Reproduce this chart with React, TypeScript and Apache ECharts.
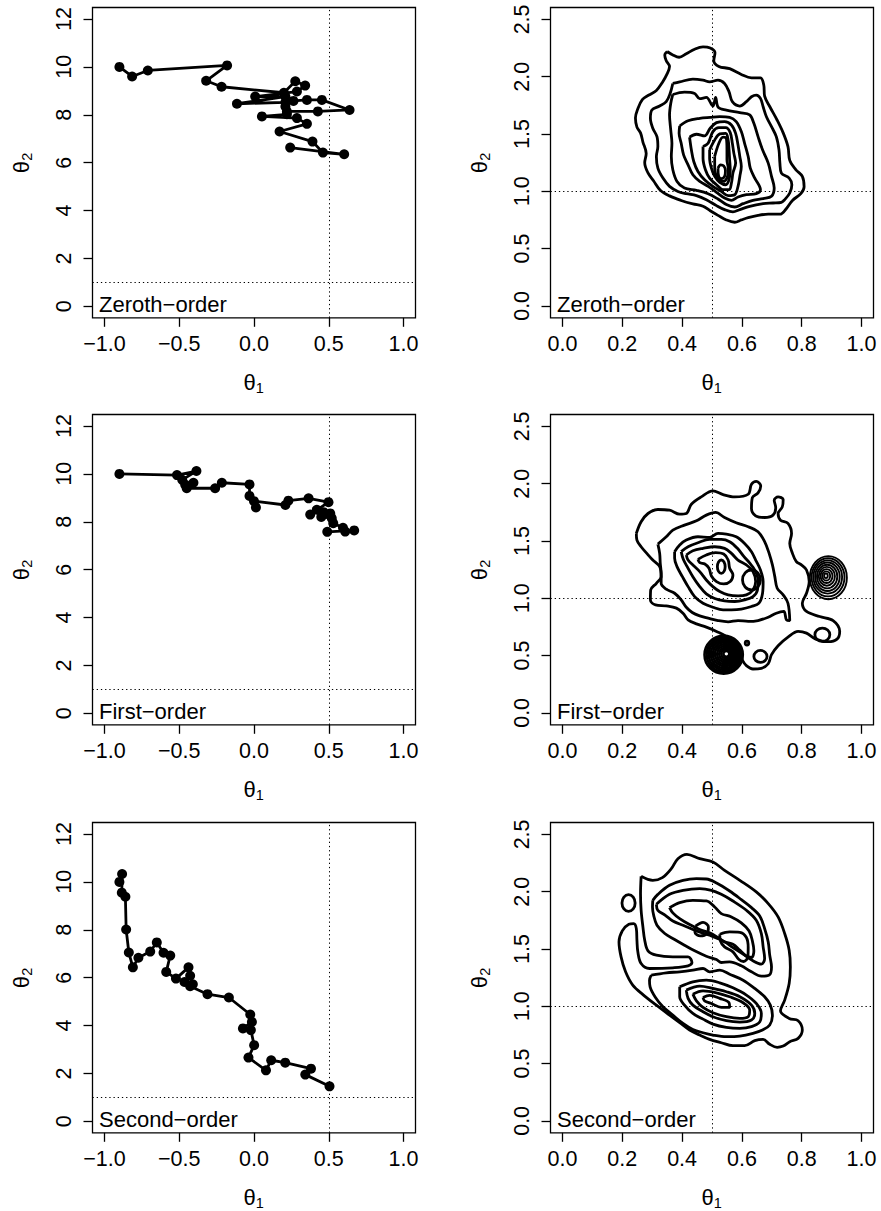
import React, { useEffect, useRef } from "react";
import * as echarts from "echarts";

const FONT = "'Liberation Sans', Arial, Helvetica, sans-serif";
const CHART_W = 881;
const CHART_H = 1211;
const COL_LEFT = [92.5, 550.5];
const ROW_TOP = [7.5, 414.5, 822.5];
const BOX_W = 323;
const BOX_H = 310.3;

const PANEL_LABELS = ["Zeroth\u2212order", "First\u2212order", "Second\u2212order"];
const TRUE_THETA1 = 0.5;
const TRUE_THETA2 = 1;

const TRACE_X_TICKS = [-1, -0.5, 0, 0.5, 1];
const TRACE_Y_TICKS = [0, 2, 4, 6, 8, 10, 12];
const DENS_X_TICKS = [0, 0.2, 0.4, 0.6, 0.8, 1];
const DENS_Y_TICKS = [0, 0.5, 1, 1.5, 2, 2.5];

// ---- trace paths (left column) ----
const ZEROTH_T1 = [-0.9, -0.815, -0.71, -0.18, -0.32, -0.217, 0.2, 0.276, 0.342, 0.287, 0.008, 0.21, -0.114, 0.21, 0.264, 0.354, 0.454, 0.639, 0.427, 0.22, 0.21, 0.22, 0.053, 0.287, 0.354, 0.171, 0.391, 0.461, 0.603, 0.242];
const ZEROTH_T2 = [10.0, 9.6, 9.85, 10.06, 9.42, 9.17, 8.92, 9.4, 9.22, 8.97, 8.76, 8.76, 8.46, 8.52, 8.58, 8.62, 8.62, 8.2, 8.14, 8.14, 8.35, 8.02, 7.93, 7.86, 7.62, 7.3, 6.88, 6.42, 6.35, 6.63];

const FIRST_T1 = [-0.9, -0.515, -0.385, -0.48, -0.46, -0.405, -0.45, -0.26, -0.215, -0.03, -0.03, 0.013, 0.0, 0.21, 0.23, 0.365, 0.498, 0.376, 0.42, 0.465, 0.51, 0.45, 0.52, 0.53, 0.595, 0.61, 0.67, 0.49];
const FIRST_T2 = [10.0, 9.95, 10.12, 9.75, 9.55, 9.63, 9.4, 9.4, 9.63, 9.56, 9.08, 8.6, 8.86, 8.7, 8.88, 8.98, 8.82, 8.3, 8.5, 8.4, 8.35, 8.2, 8.15, 7.94, 7.75, 7.59, 7.64, 7.58];

const SECOND_T1 = [-0.9, -0.882, -0.884, -0.86, -0.855, -0.837, -0.81, -0.773, -0.694, -0.65, -0.605, -0.56, -0.587, -0.522, -0.438, -0.427, -0.465, -0.409, -0.427, -0.311, -0.168, -0.025, -0.014, -0.074, -0.021, 0.001, -0.037, 0.08, 0.115, 0.209, 0.381, 0.343, 0.505];
const SECOND_T2 = [10.0, 10.33, 9.55, 9.38, 8.01, 7.05, 6.43, 6.83, 7.09, 7.47, 7.04, 6.92, 6.24, 5.96, 6.43, 6.08, 5.82, 5.72, 5.64, 5.31, 5.17, 4.46, 4.15, 3.88, 3.81, 3.18, 2.66, 2.13, 2.55, 2.45, 2.2, 1.95, 1.46];

// ---- density contours (right column), [theta1, theta2] ----
const ZEROTH_C1 = [[0.35,2.22],[0.369,2.19],[0.39,2.17],[0.414,2.2],[0.442,2.24],[0.47,2.26],[0.494,2.25],[0.51,2.21],[0.506,2.14],[0.523,2.09],[0.559,2.07],[0.598,2.02],[0.632,1.99],[0.662,1.99],[0.673,1.93],[0.676,1.83],[0.693,1.74],[0.718,1.62],[0.738,1.51],[0.754,1.39],[0.76,1.27],[0.78,1.19],[0.802,1.13],[0.808,1.04],[0.797,0.98],[0.769,0.92],[0.749,0.85],[0.727,0.8],[0.688,0.8],[0.654,0.79],[0.621,0.77],[0.598,0.75],[0.576,0.73],[0.548,0.75],[0.52,0.79],[0.494,0.83],[0.47,0.87],[0.436,0.89],[0.397,0.92],[0.358,0.96],[0.327,1.01],[0.305,1.09],[0.286,1.16],[0.275,1.25],[0.28,1.33],[0.269,1.43],[0.261,1.51],[0.249,1.56],[0.244,1.64],[0.252,1.72],[0.267,1.8],[0.289,1.84],[0.314,1.88],[0.334,1.95],[0.349,2.02],[0.358,2.09],[0.347,2.14],[0.342,2.19]];
const ZEROTH_C2 = [[0.369,1.941],[0.392,1.955],[0.436,1.979],[0.47,1.97],[0.492,1.955],[0.52,1.97],[0.542,1.941],[0.557,1.868],[0.568,1.782],[0.593,1.744],[0.615,1.782],[0.632,1.825],[0.648,1.84],[0.662,1.811],[0.671,1.738],[0.682,1.651],[0.699,1.564],[0.715,1.477],[0.724,1.362],[0.727,1.246],[0.732,1.159],[0.758,1.115],[0.767,1.057],[0.76,0.985],[0.743,0.927],[0.732,0.904],[0.704,0.898],[0.671,0.892],[0.626,0.869],[0.593,0.84],[0.57,0.82],[0.542,0.84],[0.515,0.875],[0.481,0.927],[0.448,0.962],[0.414,0.979],[0.386,0.999],[0.358,1.043],[0.336,1.115],[0.319,1.202],[0.314,1.304],[0.319,1.39],[0.316,1.477],[0.302,1.55],[0.294,1.637],[0.299,1.709],[0.325,1.744],[0.347,1.782],[0.36,1.854]];
const ZEROTH_C3 = [[0.369,1.845],[0.408,1.866],[0.442,1.854],[0.459,1.808],[0.481,1.819],[0.503,1.744],[0.512,1.819],[0.521,1.732],[0.548,1.709],[0.593,1.686],[0.626,1.666],[0.64,1.593],[0.654,1.477],[0.669,1.362],[0.688,1.246],[0.699,1.13],[0.708,1.028],[0.699,0.956],[0.671,0.936],[0.637,0.921],[0.604,0.892],[0.576,0.863],[0.548,0.884],[0.52,0.933],[0.487,0.979],[0.448,1.008],[0.408,1.028],[0.383,1.086],[0.369,1.188],[0.364,1.304],[0.366,1.419],[0.362,1.535],[0.358,1.666],[0.362,1.767]];
const ZEROTH_C4 = [[0.392,1.57],[0.42,1.616],[0.459,1.637],[0.494,1.645],[0.526,1.651],[0.559,1.645],[0.581,1.608],[0.598,1.521],[0.609,1.419],[0.621,1.304],[0.628,1.202],[0.643,1.115],[0.662,1.014],[0.648,0.979],[0.615,0.97],[0.587,0.95],[0.565,0.921],[0.542,0.941],[0.515,0.991],[0.487,1.043],[0.459,1.086],[0.436,1.144],[0.42,1.231],[0.405,1.318],[0.397,1.419],[0.39,1.506]];
const ZEROTH_C5 = [[0.425,1.472],[0.448,1.498],[0.475,1.483],[0.494,1.55],[0.515,1.599],[0.542,1.608],[0.565,1.579],[0.579,1.506],[0.587,1.405],[0.593,1.304],[0.598,1.217],[0.593,1.13],[0.587,1.043],[0.576,0.97],[0.554,0.962],[0.531,0.999],[0.503,1.043],[0.475,1.101],[0.453,1.173],[0.439,1.26],[0.431,1.362]];
const ZEROTH_C6 = [[0.47,1.39],[0.487,1.419],[0.503,1.521],[0.523,1.556],[0.546,1.556],[0.561,1.512],[0.568,1.419],[0.573,1.333],[0.579,1.246],[0.57,1.159],[0.565,1.072],[0.557,1.014],[0.537,1.014],[0.515,1.057],[0.492,1.115],[0.478,1.188],[0.47,1.289]];
const ZEROTH_C7 = [[0.492,1.362],[0.509,1.448],[0.526,1.501],[0.546,1.506],[0.554,1.448],[0.557,1.362],[0.559,1.275],[0.561,1.188],[0.557,1.101],[0.546,1.057],[0.526,1.078],[0.509,1.13],[0.498,1.202],[0.492,1.289]];
const ZEROTH_C8 = [[0.509,1.304],[0.523,1.419],[0.537,1.472],[0.548,1.463],[0.55,1.362],[0.55,1.275],[0.555,1.188],[0.55,1.115],[0.537,1.086],[0.52,1.115],[0.509,1.188]];
const ZEROTH_C9 = [[0.52,1.202],[0.529,1.231],[0.539,1.222],[0.545,1.182],[0.542,1.13],[0.531,1.11],[0.522,1.136]];

const FIRST_C1 = [[0.247,1.566],[0.263,1.668],[0.286,1.74],[0.319,1.775],[0.358,1.769],[0.392,1.734],[0.414,1.74],[0.431,1.821],[0.464,1.885],[0.503,1.937],[0.537,1.905],[0.576,1.885],[0.621,1.908],[0.632,1.995],[0.648,2.021],[0.663,1.981],[0.654,1.92],[0.635,1.879],[0.632,1.784],[0.646,1.72],[0.676,1.705],[0.704,1.726],[0.713,1.792],[0.708,1.856],[0.721,1.885],[0.738,1.862],[0.735,1.798],[0.721,1.74],[0.729,1.682],[0.754,1.653],[0.766,1.566],[0.76,1.479],[0.769,1.392],[0.782,1.32],[0.799,1.291],[0.816,1.247],[0.825,1.146],[0.816,1.044],[0.802,0.957],[0.816,0.885],[0.86,0.841],[0.905,0.806],[0.927,0.711],[0.918,0.644],[0.888,0.621],[0.847,0.644],[0.816,0.696],[0.788,0.711],[0.754,0.661],[0.721,0.586],[0.699,0.508],[0.688,0.429],[0.665,0.389],[0.637,0.383],[0.615,0.412],[0.602,0.458],[0.593,0.516],[0.576,0.595],[0.548,0.667],[0.515,0.711],[0.481,0.748],[0.448,0.777],[0.42,0.812],[0.403,0.87],[0.381,0.914],[0.347,0.934],[0.311,0.943],[0.294,0.986],[0.295,1.073],[0.314,1.131],[0.33,1.189],[0.325,1.276],[0.302,1.334],[0.282,1.392],[0.263,1.45],[0.249,1.508]];
const FIRST_C2 = [[0.319,1.473],[0.347,1.537],[0.369,1.595],[0.408,1.639],[0.448,1.676],[0.481,1.726],[0.512,1.749],[0.542,1.705],[0.581,1.659],[0.621,1.624],[0.654,1.581],[0.676,1.494],[0.691,1.392],[0.702,1.291],[0.71,1.189],[0.718,1.088],[0.738,1.03],[0.754,0.957],[0.76,0.806],[0.749,0.812],[0.74,0.885],[0.715,0.87],[0.688,0.835],[0.654,0.806],[0.621,0.798],[0.587,0.806],[0.554,0.795],[0.52,0.806],[0.487,0.827],[0.459,0.847],[0.434,0.876],[0.414,0.922],[0.397,0.986],[0.375,1.044],[0.347,1.079],[0.33,1.131],[0.33,1.218],[0.327,1.305],[0.325,1.392]];
const FIRST_C3 = [[0.375,1.407],[0.392,1.465],[0.414,1.508],[0.453,1.537],[0.492,1.531],[0.52,1.566],[0.548,1.56],[0.581,1.537],[0.609,1.479],[0.632,1.407],[0.646,1.334],[0.662,1.247],[0.671,1.146],[0.669,1.044],[0.657,0.957],[0.632,0.928],[0.598,0.905],[0.565,0.899],[0.537,0.899],[0.503,0.922],[0.47,0.957],[0.442,1.015],[0.42,1.102],[0.401,1.189],[0.383,1.276],[0.375,1.349]];
const FIRST_C4 = [[0.397,1.407],[0.42,1.45],[0.453,1.485],[0.492,1.514],[0.531,1.514],[0.559,1.494],[0.585,1.436],[0.607,1.363],[0.627,1.305],[0.643,1.247],[0.654,1.16],[0.652,1.073],[0.637,1.015],[0.609,0.986],[0.576,0.972],[0.542,0.977],[0.509,0.998],[0.481,1.038],[0.459,1.102],[0.436,1.189],[0.417,1.276],[0.404,1.34]];
const FIRST_C5 = [[0.414,1.378],[0.436,1.415],[0.47,1.436],[0.509,1.45],[0.542,1.436],[0.565,1.392],[0.587,1.334],[0.615,1.291],[0.637,1.233],[0.646,1.146],[0.637,1.073],[0.615,1.03],[0.587,1.021],[0.554,1.03],[0.526,1.059],[0.503,1.102],[0.481,1.16],[0.459,1.233],[0.436,1.291],[0.42,1.334]];
const FIRST_C6 = [[0.453,1.34],[0.481,1.378],[0.512,1.398],[0.539,1.386],[0.554,1.334],[0.559,1.262],[0.57,1.204],[0.561,1.146],[0.539,1.125],[0.515,1.146],[0.498,1.195],[0.49,1.262],[0.476,1.299],[0.459,1.311]];
// small closed loops: [centre theta1, centre theta2, half-width, half-height]
const FIRST_LOOPS = [[0.632,1.16,0.03,0.087],[0.531,1.276,0.013,0.058],[0.869,0.682,0.025,0.058],[0.662,0.493,0.022,0.052],[0.617,0.609,0.006,0.018]];
const FIRST_PEAK_RIGHT = [[0.889,1.18,0.062,0.188],[0.888,1.183,0.055,0.166],[0.887,1.186,0.048,0.145],[0.886,1.188,0.041,0.124],[0.885,1.19,0.034,0.103],[0.884,1.192,0.027,0.082],[0.883,1.194,0.02,0.061],[0.882,1.195,0.013,0.04],[0.881,1.196,0.006,0.02]];
const FIRST_PEAK_LOW = [[0.539,0.508,0.064,0.165],[0.54,0.509,0.058,0.15],[0.541,0.51,0.052,0.135],[0.542,0.511,0.046,0.12],[0.543,0.512,0.04,0.104],[0.544,0.513,0.034,0.088],[0.545,0.514,0.028,0.072],[0.546,0.514,0.022,0.056],[0.547,0.515,0.016,0.041],[0.548,0.515,0.01,0.026]];

const SECOND_C1 = [[0.263,2.134],[0.302,2.099],[0.334,2.123],[0.364,2.201],[0.386,2.288],[0.416,2.326],[0.459,2.288],[0.503,2.259],[0.542,2.186],[0.593,2.099],[0.648,1.998],[0.688,1.896],[0.721,1.78],[0.743,1.635],[0.758,1.49],[0.762,1.344],[0.758,1.199],[0.743,1.054],[0.729,0.961],[0.758,0.894],[0.788,0.874],[0.802,0.793],[0.788,0.72],[0.76,0.691],[0.738,0.653],[0.718,0.642],[0.693,0.668],[0.671,0.711],[0.643,0.7],[0.609,0.656],[0.57,0.656],[0.531,0.682],[0.492,0.711],[0.459,0.749],[0.425,0.793],[0.392,0.857],[0.358,0.923],[0.314,1.01],[0.271,1.098],[0.235,1.185],[0.211,1.301],[0.196,1.431],[0.189,1.562],[0.2,1.658],[0.222,1.716],[0.238,1.722],[0.247,1.678],[0.249,1.577],[0.252,1.475],[0.263,1.373],[0.291,1.33],[0.369,1.336],[0.42,1.353],[0.433,1.382],[0.42,1.431],[0.369,1.431],[0.314,1.446],[0.286,1.484],[0.275,1.577],[0.269,1.693],[0.263,1.838],[0.261,1.983]];
const SECOND_U2 = [[0.302,1.925],[0.319,1.977],[0.358,2.056],[0.403,2.099],[0.448,2.114],[0.481,2.111],[0.515,2.076],[0.559,2.006],[0.598,1.931],[0.632,1.861],[0.66,1.786],[0.676,1.678],[0.688,1.562],[0.693,1.446],[0.699,1.344],[0.691,1.272],[0.665,1.263],[0.632,1.301],[0.598,1.353],[0.559,1.388],[0.531,1.382],[0.515,1.408],[0.481,1.437],[0.442,1.484],[0.408,1.533],[0.375,1.583],[0.342,1.635],[0.316,1.707],[0.305,1.794],[0.301,1.867]];
const SECOND_U3 = [[0.314,1.89],[0.358,1.977],[0.403,2.012],[0.459,2.027],[0.498,2.012],[0.531,1.977],[0.57,1.919],[0.615,1.838],[0.648,1.751],[0.665,1.635],[0.671,1.519],[0.676,1.417],[0.665,1.368],[0.637,1.397],[0.604,1.455],[0.57,1.513],[0.537,1.571],[0.492,1.62],[0.448,1.658],[0.403,1.707],[0.369,1.745],[0.344,1.794],[0.319,1.838]];
const SECOND_U4 = [[0.358,1.861],[0.392,1.905],[0.436,1.925],[0.481,1.919],[0.509,1.867],[0.531,1.809],[0.565,1.78],[0.598,1.728],[0.624,1.658],[0.635,1.571],[0.64,1.484],[0.632,1.426],[0.612,1.443],[0.593,1.49],[0.57,1.542],[0.542,1.562],[0.52,1.6],[0.492,1.641],[0.459,1.67],[0.425,1.713],[0.392,1.765],[0.369,1.815]];
const SECOND_U5 = [[0.445,1.699],[0.47,1.733],[0.488,1.693],[0.483,1.635],[0.461,1.614],[0.443,1.646]];
const SECOND_U6 = [[0.526,1.629],[0.559,1.649],[0.593,1.646],[0.615,1.6],[0.621,1.513],[0.62,1.431],[0.606,1.391],[0.59,1.408],[0.57,1.475],[0.542,1.519],[0.528,1.571]];
const SECOND_L2 = [[0.297,1.272],[0.347,1.292],[0.392,1.301],[0.436,1.315],[0.47,1.33],[0.492,1.301],[0.526,1.315],[0.559,1.28],[0.604,1.228],[0.643,1.156],[0.676,1.083],[0.695,1.01],[0.702,0.923],[0.693,0.836],[0.669,0.793],[0.637,0.764],[0.593,0.74],[0.548,0.735],[0.503,0.749],[0.47,0.769],[0.436,0.798],[0.403,0.851],[0.369,0.923],[0.336,0.996],[0.311,1.077],[0.293,1.17],[0.291,1.228]];
const SECOND_L3 = [[0.392,1.17],[0.436,1.214],[0.481,1.228],[0.526,1.205],[0.57,1.161],[0.615,1.098],[0.648,1.025],[0.665,0.938],[0.66,0.865],[0.632,0.822],[0.593,0.807],[0.548,0.816],[0.503,0.845],[0.47,0.888],[0.436,0.938],[0.408,1.01],[0.392,1.083]];
const SECOND_L4 = [[0.414,1.141],[0.459,1.176],[0.503,1.156],[0.548,1.127],[0.593,1.083],[0.632,1.01],[0.643,0.938],[0.632,0.88],[0.593,0.862],[0.548,0.874],[0.503,0.909],[0.47,0.952],[0.436,1.01],[0.42,1.069]];
const SECOND_L5 = [[0.436,1.106],[0.47,1.135],[0.515,1.118],[0.559,1.083],[0.604,1.031],[0.626,0.967],[0.621,0.909],[0.593,0.894],[0.548,0.909],[0.503,0.944],[0.47,0.99],[0.448,1.048]];
const SECOND_L6 = [[0.47,1.077],[0.492,1.095],[0.526,1.069],[0.557,1.031],[0.559,0.99],[0.531,0.99],[0.498,1.025],[0.475,1.048]];
const SECOND_LOOPS = [[0.221,1.902,0.022,0.073]];

const TRACES = [
  [ZEROTH_T1, ZEROTH_T2],
  [FIRST_T1, FIRST_T2],
  [SECOND_T1, SECOND_T2],
];
const CONTOURS = [
  [ZEROTH_C1, ZEROTH_C2, ZEROTH_C3, ZEROTH_C4, ZEROTH_C5, ZEROTH_C6, ZEROTH_C7, ZEROTH_C8, ZEROTH_C9],
  [FIRST_C1, FIRST_C2, FIRST_C3, FIRST_C4, FIRST_C5, FIRST_C6],
  [SECOND_C1, SECOND_U2, SECOND_U3, SECOND_U4, SECOND_U5, SECOND_U6, SECOND_L2, SECOND_L3, SECOND_L4, SECOND_L5, SECOND_L6],
];
const LOOPS = [[], FIRST_LOOPS, SECOND_LOOPS];
// dense peak rings: [rings, line width]
const PEAKS: [number[][], number][][] = [[], [[FIRST_PEAK_RIGHT, 1.9], [FIRST_PEAK_LOW, 2.6]], []];

const signed = (v: number) => (v < 0 ? "\u2212" : "") + Math.abs(v).toFixed(1);

function ellipseRenderer(width: number) {
  return (params: any, api: any) => {
    const c = api.coord([api.value(0), api.value(1)]);
    const s = api.size([api.value(2), api.value(3)]);
    return {
      type: "ellipse",
      shape: { cx: c[0], cy: c[1], rx: s[0], ry: s[1] },
      style: { fill: "none", stroke: "#000", lineWidth: width },
    };
  };
}

function textEl(x: number, y: number, text: string, size: number, align = "left") {
  return {
    type: "text",
    x,
    y,
    silent: true,
    style: {
      text,
      fill: "#000",
      font: `${size}px ${FONT}`,
      align,
      verticalAlign: "middle",
      textAlign: align,
      textVerticalAlign: "middle",
    },
  };
}

function buildOption() {
  const grid: any[] = [];
  const xAxis: any[] = [];
  const yAxis: any[] = [];
  const series: any[] = [];
  const graphics: any[] = [];
  const refLines = {
    silent: true,
    symbol: "none",
    animation: false,
    label: { show: false },
    lineStyle: { color: "#000", width: 1, type: [1.3, 2.9] },
    data: [{ xAxis: TRUE_THETA1 }, { yAxis: TRUE_THETA2 }],
  };

  for (let r = 0; r < 3; r++) {
    for (let c = 0; c < 2; c++) {
      const idx = r * 2 + c;
      const isTrace = c === 0;
      const left = COL_LEFT[c];
      const top = ROW_TOP[r];
      grid.push({
        left,
        top,
        width: BOX_W,
        height: BOX_H,
        show: true,
        borderColor: "#000",
        borderWidth: 1.3,
        backgroundColor: "transparent",
      });
      const xt = isTrace ? TRACE_X_TICKS : DENS_X_TICKS;
      const yt = isTrace ? TRACE_Y_TICKS : DENS_Y_TICKS;
      xAxis.push({
        gridIndex: idx,
        type: "value",
        min: isTrace ? -1.08 : -0.04,
        max: isTrace ? 1.08 : 1.04,
        axisLine: { show: false, onZero: false },
        axisTick: { show: true, inside: false, length: 9, lineStyle: { color: "#000", width: 1.3 }, customValues: xt },
        axisLabel: {
          show: true,
          customValues: xt,
          formatter: (v: number) => (isTrace ? signed(v) : v.toFixed(1)),
          color: "#000",
          fontSize: 21.5,
          fontFamily: FONT,
          margin: 15,
          hideOverlap: false,
        },
        splitLine: { show: false },
      });
      yAxis.push({
        gridIndex: idx,
        type: "value",
        min: isTrace ? -0.48 : -0.104,
        max: isTrace ? 12.48 : 2.604,
        axisLine: { show: false, onZero: false },
        axisTick: { show: true, inside: false, length: 9, lineStyle: { color: "#000", width: 1.3 }, customValues: yt },
        axisLabel: {
          show: true,
          customValues: yt,
          rotate: 90,
          formatter: (v: number) => (isTrace ? String(v) : v.toFixed(1)),
          color: "#000",
          fontSize: 21.5,
          fontFamily: FONT,
          margin: 18,
          hideOverlap: false,
        },
        splitLine: { show: false },
      });

      if (isTrace) {
        const [t1, t2] = TRACES[r];
        series.push({
          type: "line",
          xAxisIndex: idx,
          yAxisIndex: idx,
          data: t1.map((v, i) => [v, t2[i]]),
          symbol: "circle",
          symbolSize: 10,
          showSymbol: true,
          showAllSymbol: true,
          silent: true,
          lineStyle: { color: "#000", width: 2.8 },
          itemStyle: { color: "#000" },
          markLine: refLines,
          z: 3,
        });
      } else {
        CONTOURS[r].forEach((pts, k) => {
          series.push({
            type: "line",
            xAxisIndex: idx,
            yAxisIndex: idx,
            data: [...pts, pts[0]],
            symbol: "none",
            showSymbol: false,
            smooth: 0.35,
            silent: true,
            lineStyle: { color: "#000", width: 2.8 },
            markLine: k === 0 ? refLines : undefined,
            z: 3,
          });
        });
        if (LOOPS[r].length) {
          series.push({
            type: "custom",
            xAxisIndex: idx,
            yAxisIndex: idx,
            data: LOOPS[r],
            encode: { x: 0, y: 1 },
            silent: true,
            renderItem: ellipseRenderer(2.8),
            z: 3,
          });
        }
        PEAKS[r].forEach(([rings, w]) => {
          series.push({
            type: "custom",
            xAxisIndex: idx,
            yAxisIndex: idx,
            data: rings,
            encode: { x: 0, y: 1 },
            silent: true,
            renderItem: ellipseRenderer(w),
            z: 3,
          });
        });
      }

      const bottom = top + BOX_H;
      const cx = left + BOX_W / 2;
      const cy = top + BOX_H / 2;
      graphics.push(textEl(left + 6.5, bottom - 13.5, PANEL_LABELS[r], 22));
      graphics.push(textEl(cx - 10.5, bottom + 64.5, "\u03b8", 22));
      graphics.push(textEl(cx + 1.8, bottom + 70, "1", 14.5));
      graphics.push({
        type: "group",
        x: left - 71.5,
        y: cy,
        rotation: Math.PI / 2,
        children: [textEl(-10.5, 0, "\u03b8", 22), textEl(1.8, 6, "2", 14.5)],
      });
    }
  }

  return {
    animation: false,
    backgroundColor: "#fff",
    grid,
    xAxis,
    yAxis,
    series,
    graphic: { elements: graphics },
  };
}

export default function App() {
  const ref = useRef<HTMLDivElement>(null);
  useEffect(() => {
    document.body.style.margin = "0";
    const chart = echarts.init(ref.current!, null, { renderer: "svg" });
    chart.setOption(buildOption() as any);
    return () => chart.dispose();
  }, []);
  return <div ref={ref} style={{ width: CHART_W, height: CHART_H }} />;
}
